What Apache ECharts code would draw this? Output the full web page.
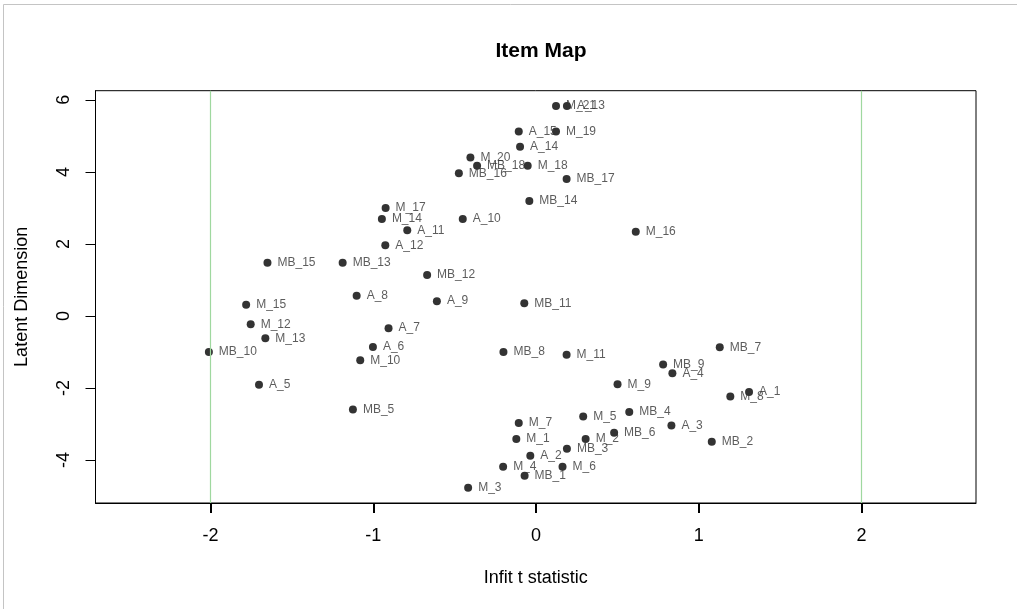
<!DOCTYPE html>
<html>
<head>
<meta charset="utf-8">
<title>Item Map</title>
<script src="https://cdn.jsdelivr.net/npm/echarts@6/dist/echarts.min.js"></script>
<style>
  html, body { margin: 0; padding: 0; background: #fff; }
  #chart { width: 1017px; height: 609px; }
</style>
</head>
<body>
<div id="chart"></div>
<script>
// Item labels with their infit t statistic (x) and latent dimension location (y)
const itemLabels = [
  'M_21', 'A_13', 'A_15', 'M_19', 'A_14', 'M_20', 'MB_18', 'M_18', 'MB_16', 'MB_17',
  'MB_14', 'M_17', 'M_14', 'A_10', 'A_11', 'M_16', 'A_12', 'MB_15', 'MB_13', 'MB_12',
  'A_8', 'A_9', 'MB_11', 'M_15', 'M_12', 'A_7', 'M_13', 'A_6', 'MB_7', 'MB_10',
  'MB_8', 'M_11', 'M_10', 'MB_9', 'A_4', 'M_9', 'A_5', 'A_1', 'M_8', 'MB_5',
  'MB_4', 'M_5', 'M_7', 'A_3', 'MB_6', 'M_1', 'M_2', 'MB_2', 'MB_3', 'A_2',
  'M_4', 'M_6', 'MB_1', 'M_3'
];
const infitT = [
  0.123, 0.190, -0.106, 0.123, -0.098, -0.403, -0.362, -0.051, -0.474, 0.188,
  -0.041, -0.924, -0.947, -0.450, -0.791, 0.613, -0.926, -1.650, -1.188, -0.669,
  -1.102, -0.609, -0.072, -1.781, -1.753, -0.906, -1.663, -1.002, 1.129, -2.010,
  -0.200, 0.188, -1.080, 0.781, 0.838, 0.501, -1.702, 1.309, 1.194, -1.125,
  0.573, 0.290, -0.106, 0.832, 0.480, -0.121, 0.305, 1.080, 0.190, -0.035,
  -0.202, 0.163, -0.070, -0.417
];
const latentDim = [
  5.83, 5.83, 5.12, 5.12, 4.70, 4.40, 4.17, 4.17, 3.96, 3.80,
  3.19, 3.00, 2.69, 2.69, 2.38, 2.34, 1.96, 1.48, 1.48, 1.14,
  0.56, 0.41, 0.35, 0.31, -0.23, -0.34, -0.62, -0.86, -0.87, -1.00,
  -1.00, -1.08, -1.23, -1.35, -1.59, -1.90, -1.91, -2.11, -2.24, -2.60,
  -2.67, -2.79, -2.97, -3.04, -3.24, -3.42, -3.42, -3.49, -3.69, -3.88,
  -4.19, -4.19, -4.44, -4.77
];
const xTickValues = [-2, -1, 0, 1, 2];
const yTickValues = [-4, -2, 0, 2, 4, 6];
// Critical values of the infit t statistic
const criticalT = [-2, 2];

const FONT = '"Liberation Sans", Arial, Helvetica, sans-serif';
const REF_GREEN = '#9fd89f';

const chart = echarts.init(document.getElementById('chart'), null, { renderer: 'canvas' });

chart.setOption({
  animation: false,
  backgroundColor: '#ffffff',
  title: {
    text: 'Item Map',
    left: 536,
    top: 36,
    textAlign: 'center',
    textStyle: { fontFamily: FONT, fontWeight: 'bold', fontSize: 21, color: '#000' }
  },
  graphic: [
    { type: 'line', shape: { x1: 3.5, y1: 4.5, x2: 3.5, y2: 609 }, style: { stroke: '#c4c4c4', lineWidth: 1 }, silent: true },
    { type: 'line', shape: { x1: 3.5, y1: 4.5, x2: 1017, y2: 4.5 }, style: { stroke: '#c4c4c4', lineWidth: 1 }, silent: true }
  ],
  grid: {
    left: 95.5,
    right: 41,
    top: 90.7,
    bottom: 106,
    show: true,
    borderColor: '#000',
    borderWidth: 1,
    backgroundColor: 'transparent'
  },
  xAxis: {
    type: 'value',
    position: 'bottom',
    min: -2.7066,
    max: 2.7035,
    name: 'Infit t statistic',
    nameLocation: 'middle',
    nameGap: 66,
    nameTextStyle: { fontFamily: FONT, fontSize: 18, color: '#000' },
    axisLine: { show: true, onZero: false, lineStyle: { color: '#000', width: 1 } },
    splitLine: { show: false },
    axisTick: { show: true, length: 10, customValues: xTickValues, lineStyle: { color: '#000', width: 2 } },
    axisLabel: { show: true, customValues: xTickValues, margin: 24, fontFamily: FONT, fontSize: 18, color: '#000' }
  },
  yAxis: {
    type: 'value',
    position: 'left',
    min: -5.194,
    max: 6.254,
    name: 'Latent Dimension',
    nameLocation: 'middle',
    nameGap: 64,
    nameTextStyle: { fontFamily: FONT, fontSize: 18, color: '#000' },
    axisLine: { show: true, onZero: false, lineStyle: { color: '#000', width: 1 } },
    splitLine: { show: false },
    axisTick: { show: true, length: 10, customValues: yTickValues, lineStyle: { color: '#000', width: 1 } },
    axisLabel: { show: true, customValues: yTickValues, rotate: 90, margin: 22, fontFamily: FONT, fontSize: 18, color: '#000' }
  },
  series: [{
    type: 'scatter',
    symbol: 'circle',
    symbolSize: 8,
    itemStyle: { color: '#000' },
    data: itemLabels.map((name, i) => ({ name: name, value: [infitT[i], latentDim[i]] })),
    label: {
      show: true,
      position: 'right',
      distance: 6,
      formatter: '{b}',
      fontFamily: FONT,
      fontSize: 12,
      color: '#333'
    },
    emphasis: { disabled: true },
    // vertical reference lines at the critical t values
    markLine: {
      symbol: 'none',
      label: { show: false },
      lineStyle: { color: REF_GREEN, width: 1.2, type: 'solid' },
      data: criticalT.map(v => ({ xAxis: v }))
    }
  }]
});
</script>
</body>
</html>
